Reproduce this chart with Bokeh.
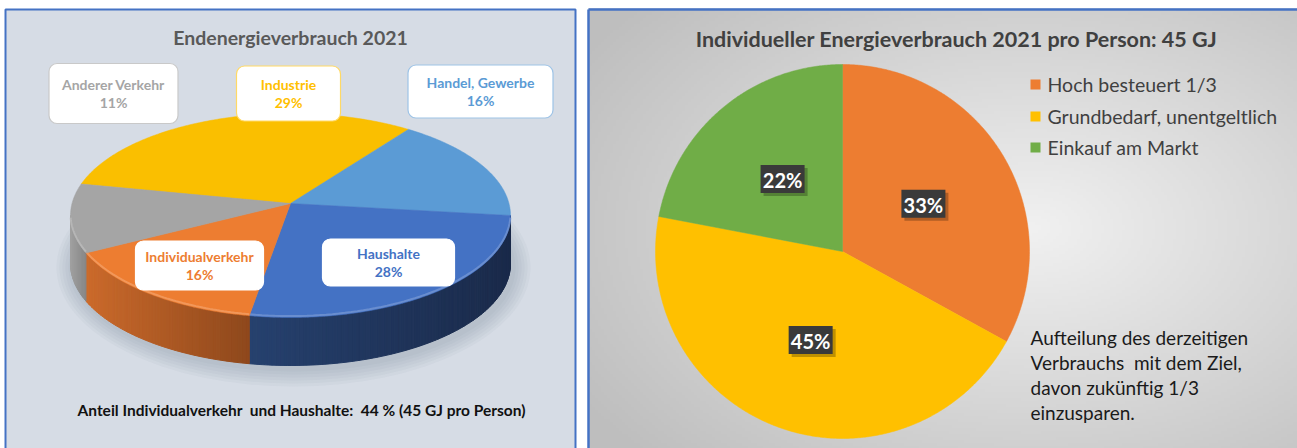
import numpy as np
from bokeh.plotting import figure
from bokeh.models import Range1d
from bokeh.core.properties import value
from bokeh.embed import file_html
from bokeh.resources import INLINE

# ---------------- data ----------------
left_title = "Endenergieverbrauch 2021"
left_labels = ["Industrie", "Handel, Gewerbe", "Haushalte", "Individualverkehr", "Anderer Verkehr"]
left_values = [29, 16, 28, 16, 11]
left_note = "Anteil Individualverkehr\u00a0 und Haushalte:\u00a0 44 % (45 GJ pro Person)"

right_title = "Individueller Energieverbrauch 2021 pro Person: 45 GJ"
right_labels = ["Hoch besteuert 1/3", "Grundbedarf, unentgeltlich", "Einkauf am Markt"]
right_values = [33, 45, 22]
right_note = ["Aufteilung des derzeitigen", "Verbrauchs\u00a0 mit dem Ziel,", "davon zukünftig 1/3", "einzusparen."]

# ---------------- styles / layout ----------------
FONT = "Lato"
left_top_colors = ["#FABF00", "#5B9BD5", "#4472C4", "#ED7D31", "#A5A5A5"]
left_side_colors = [("#C99A00", "#9C7700"), ("#4A80B0", "#3A6690"), ("#26416E", "#1A2A4A"),
                    ("#CB6A2B", "#8E481C"), ("#A0A0A0", "#858585")]
left_text_colors = ["#FFC000", "#5B9BD5", "#4472C4", "#ED7D31", "#A5A5A5"]
left_box_lines = ["#FFD966", "#9DC3E6", "#FFFFFF", "#FFFFFF", "#C9C9C9"]
left_box_centers = [(288, 93), (480, 91), (388, 262), (199, 265), (113, 93)]
left_box_sizes = [(104, 55), (145, 53), (132, 47), (128, 49), (129, 60)]
right_colors = ["#ED7D31", "#FFC000", "#70AD47"]


def hex2rgb(h):
    h = h.lstrip("#")
    return np.array([int(h[i:i + 2], 16) for i in (0, 2, 4)], dtype=float)


def lerp_hex(c1, c2, t):
    a, b = hex2rgb(c1), hex2rgb(c2)
    c = a + (b - a) * t
    return "#%02x%02x%02x" % tuple(int(round(v)) for v in c)


def ell(theta_deg, cx, cy, rx, ry):
    t = np.radians(theta_deg)
    return cx + rx * np.sin(t), cy - ry * np.cos(t)


W, H = 1297, 448
p = figure(width=W, height=H, x_range=Range1d(0, W), y_range=Range1d(H, 0),
           output_backend="svg", toolbar_location=None, min_border=0,
           x_axis_location=None, y_axis_location=None)
p.grid.visible = False
p.outline_line_color = None
p.background_fill_color = "white"
p.border_fill_color = "white"

# ================= LEFT PANEL =================
p.quad(left=5, right=575, top=9, bottom=452, fill_color="#D6DCE5",
       line_color="#4472C4", line_width=2)

p.text(x=[290], y=[37], text=[left_title], text_font=value(FONT), text_font_style="bold",
       text_font_size="19.5px", text_color="#595959", text_align="center", text_baseline="middle")

cx, cy, rx, ry, T = 290, 215, 220, 102, 48
apx, apy = 290, 203
start = 288.0
cum = np.concatenate([[0], np.cumsum(left_values)]) / sum(left_values) * 360.0
bounds = [(start + cum[i], start + cum[i + 1]) for i in range(len(left_values))]

# soft shadow
for k in range(6):
    p.ellipse(x=[293], y=[cy + T + 4], width=[2 * rx + 4 + k * 6], height=[2 * ry + 4 + k * 6],
              fill_color="#7C8696", fill_alpha=0.06, line_color=None)

# sides
sx, sy, sc = [], [], []
for i, (a0, a1) in enumerate(bounds):
    for off in (-360, 0, 360):
        lo, hi = max(a0 + off, 90), min(a1 + off, 270)
        if hi <= lo:
            continue
        n = max(2, int(np.ceil(hi - lo)))
        th = np.linspace(lo, hi, n + 1)
        px, py = ell(th, cx, cy, rx, ry)
        xmin, xmax = px.min(), px.max()
        for j in range(n):
            xm = 0.5 * (px[j] + px[j + 1])
            t = (xm - xmin) / (xmax - xmin) if xmax > xmin else 0
            sx.append([px[j], px[j + 1], px[j + 1], px[j]])
            sy.append([py[j], py[j + 1], py[j + 1] + T, py[j] + T])
            sc.append(lerp_hex(left_side_colors[i][0], left_side_colors[i][1], t))
p.patches(xs=sx, ys=sy, fill_color=sc, line_color=sc, line_width=1)

# top faces
for i, (a0, a1) in enumerate(bounds):
    th = np.linspace(a0, a1, int(np.ceil(a1 - a0)) * 2 + 2)
    px, py = ell(th, cx, cy, rx, ry)
    p.patch(x=np.concatenate([[apx], px]), y=np.concatenate([[apy], py]),
            fill_color=left_top_colors[i], line_color=left_top_colors[i], line_width=0.5)
    for off in (-360, 0, 360):
        lo, hi = max(a0 + off, 92), min(a1 + off, 268)
        if hi <= lo:
            continue
        th2 = np.linspace(lo, hi, 60)
        hx, hy = ell(th2, cx, cy, rx, ry)
        p.line(x=hx, y=hy - 1.5, line_color=lerp_hex(left_top_colors[i], "#FFFFFF", 0.25),
               line_width=2, line_alpha=0.8)

# label callouts
for i, lab in enumerate(left_labels):
    bx, by = left_box_centers[i]
    bw, bh = left_box_sizes[i]
    p.quad(left=bx - bw / 2, right=bx + bw / 2, top=by - bh / 2, bottom=by + bh / 2,
           fill_color="white", line_color=left_box_lines[i], line_width=1.2, border_radius=8)
    p.text(x=[bx, bx], y=[by - 9, by + 9], text=[lab, f"{left_values[i]}%"],
           text_font=value(FONT), text_font_style="bold", text_font_size="14px",
           text_color=left_text_colors[i], text_align="center", text_baseline="middle")

p.text(x=[301], y=[409], text=[left_note], text_font=value(FONT), text_font_style="bold",
       text_font_size="15.5px", text_color="#111111", text_align="center", text_baseline="middle")

# ================= RIGHT PANEL =================
nx, ny = 237, 148
gx = 588 + (np.arange(nx) + 0.5) * 3
gy = 8 + (np.arange(ny) + 0.5) * 3
GX, GY = np.meshgrid(gx, gy)
d = np.sqrt(((GX - 1030) / 520) ** 2 + ((GY - 228) / 330) ** 2)
v = np.clip(241 - 50 * d, 190, 241).astype(np.uint32)
img = (np.uint32(255) << 24) | (v << 16) | (v << 8) | v
p.image_rgba(image=[img], x=588, y=8, dw=711, dh=444)
p.line(x=[588, 588], y=[449, 9], line_color="#4472C4", line_width=2.5)
p.line(x=[588, 1297], y=[9, 9], line_color="#4472C4", line_width=2.5)

p.text(x=[956], y=[38], text=[right_title], text_font=value(FONT), text_font_style="bold",
       text_font_size="21.5px", text_color="#404040", text_align="center", text_baseline="middle")

rcx, rcy, rr = 842, 251, 187
rcum = np.concatenate([[0], np.cumsum(right_values)]) / sum(right_values) * 360.0
for i in range(len(right_values)):
    a0, a1 = rcum[i], rcum[i + 1]
    th = np.linspace(a0, a1, int(np.ceil(a1 - a0)) * 2 + 2)
    px, py = ell(th, rcx, rcy, rr, rr)
    p.patch(x=np.concatenate([[rcx], px]), y=np.concatenate([[rcy], py]),
            fill_color=right_colors[i], line_color=right_colors[i], line_width=0.5)

for i in range(len(right_values)):
    mid = 0.5 * (rcum[i] + rcum[i + 1])
    lx, ly = ell(mid, rcx, rcy, 94, 94)
    p.quad(left=lx - 22 + 3, right=lx + 22 + 3, top=ly - 14 + 3, bottom=ly + 14 + 3,
           fill_color="#000000", fill_alpha=0.25, line_color=None)
    p.quad(left=lx - 22, right=lx + 22, top=ly - 14, bottom=ly + 14,
           fill_color="#3A3A3A", line_color=None)
    p.text(x=[lx], y=[ly + 1], text=[f"{right_values[i]}%"], text_font=value(FONT),
           text_font_style="bold", text_font_size="20px", text_color="white",
           text_align="center", text_baseline="middle")

leg_y = [84, 116, 147]
for i, lab in enumerate(right_labels):
    p.quad(left=1030, right=1040, top=leg_y[i] - 5, bottom=leg_y[i] + 5,
           fill_color=right_colors[i], line_color=None)
    p.text(x=[1047], y=[leg_y[i]], text=[lab], text_font=value(FONT), text_font_size="19.5px",
           text_color="#404040", text_align="left", text_baseline="middle")

note_y = [337, 362, 387, 412]
p.text(x=[1030] * len(right_note), y=note_y, text=right_note, text_font=value(FONT),
       text_font_size="19px", text_color="#1A1A1A", text_align="left", text_baseline="middle")

open("out.html", "w").write(file_html(p, INLINE))
